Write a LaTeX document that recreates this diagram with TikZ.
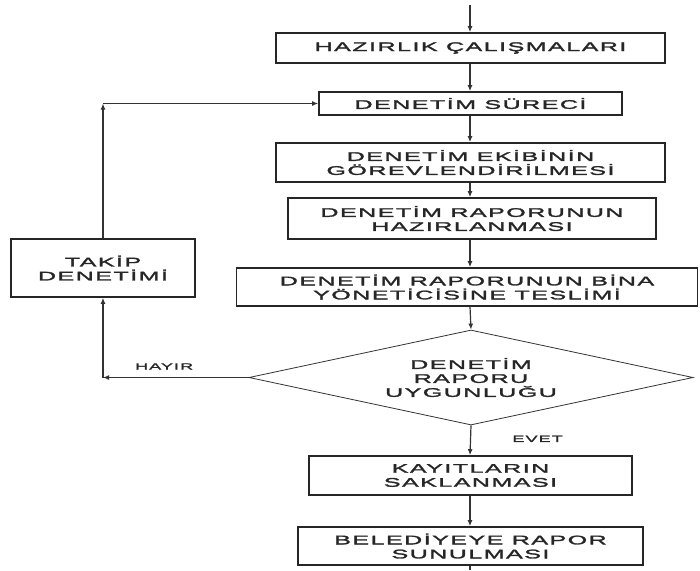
\documentclass[tikz,border=0pt]{standalone}
\usepackage{fontspec}
\setmainfont{Liberation Sans}[FakeStretch=2.0,LetterSpace=12,FakeBold=2.2]
\usetikzlibrary{shapes.geometric,arrows.meta}

\begin{document}
\begin{tikzpicture}[x=1pt,y=-1pt,
    kutu/.style={draw=black!85,line width=1.6pt,align=center,inner sep=0pt,
      font=\fontsize{12.5}{14}\selectfont,text=black!85},
    karar/.style={draw=black!80,line width=0.8pt,diamond,aspect=4.67,align=center,inner sep=0pt,
      font=\fontsize{12.5}{14}\selectfont,text=black!85},
    ok/.style={draw=black!80,line width=1.2pt,-{Latex[length=6pt,width=5pt]}},
    etiket/.style={font=\fontsize{9}{10}\selectfont,text=black!85}]
  \useasboundingbox (0,0) rectangle (700,570);
  \node[kutu,minimum width=389pt,minimum height=30pt] (A1) at (470.5,48) {HAZIRLIK ÇALIŞMALARI};
  \node[kutu,minimum width=303pt,minimum height=23pt] (A2) at (470.5,103.5) {DENETİM SÜRECİ};
  \node[kutu,minimum width=389pt,minimum height=39pt] (A3) at (470.5,162.5) {DENETİM EKİBİNİN\\GÖREVLENDİRİLMESİ};
  \node[kutu,minimum width=368pt,minimum height=41pt] (A4) at (472,218.5) {DENETİM RAPORUNUN\\HAZIRLANMASI};
  \node[kutu,minimum width=461pt,minimum height=38pt] (A5) at (467,287) {DENETİM RAPORUNUN BİNA\\YÖNETİCİSİNE TESLİMİ};
  \node[karar,minimum width=444pt,minimum height=95pt] (K) at (471,377.5) {DENETİM\\RAPORU\\UYGUNLUĞU};
  \node[kutu,minimum width=323pt,minimum height=39pt] (B1) at (470.5,475.5) {KAYITLARIN\\SAKLANMASI};
  \node[kutu,minimum width=345pt,minimum height=38pt] (B2) at (470.5,546) {BELEDİYEYE RAPOR\\SUNULMASI};
  \node[kutu,minimum width=184pt,minimum height=58pt] (T) at (103,268) {TAKİP\\DENETİMİ};
  \coordinate (basla) at (470,5);
  \coordinate (son) at (470,570);
  % ana akis
  \draw[ok] (basla) -- (basla |- A1.north);
  \draw[ok] (470,0 |- A1.south) -- (470,0 |- A2.north);
  \draw[ok] (470,0 |- A2.south) -- (470,0 |- A3.north);
  \draw[ok] (470,0 |- A3.south) -- (470,0 |- A4.north);
  \draw[ok] (470,0 |- A4.south) -- (470,0 |- A5.north);
  \draw[ok] (470,0 |- A5.south) -- (K.north);
  \draw[ok] (K.south) -- (470,0 |- B1.north) node[etiket,pos=0.45,right=38pt] {EVET};
  \draw[ok] (470,0 |- B1.south) -- (470,0 |- B2.north);
  \draw[draw=black!80,line width=1.2pt] (470,0 |- B2.south) -- (son);
  % geri donus
  \draw[ok] (K.west) -- (K.west -| T.south) node[etiket,pos=0.58,above=4pt] {HAYIR};
  \draw[ok] (K.west -| T.south) -- (T.south);
  \draw[ok] (T.north) -- (T.north |- A2.west);
  \draw[ok] (T.north |- A2.west) -- (A2.west);
\end{tikzpicture}
\end{document}
